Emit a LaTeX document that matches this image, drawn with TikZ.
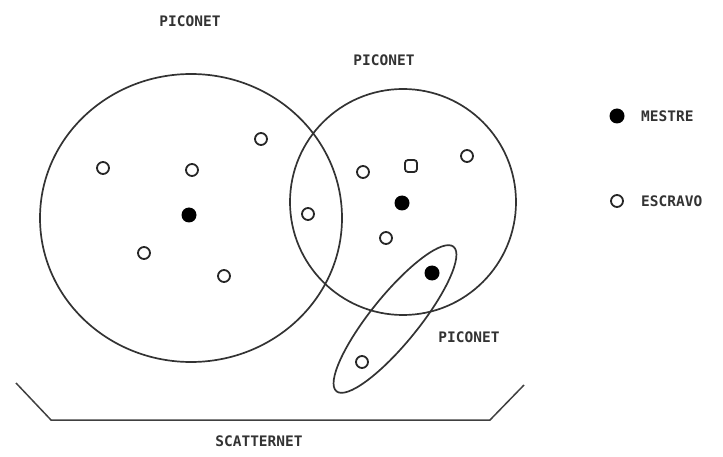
\documentclass[tikz,border=0pt]{standalone}
\usepackage{fontspec}
\setmonofont{DejaVu Sans Mono}
\begin{document}
\begin{tikzpicture}[x=1pt,y=-1pt,
  lbl/.style={font=\ttfamily\bfseries\fontsize{14.5}{15}\selectfont, text=black!80, inner sep=0pt},
  net/.style={draw=black!80, line width=1.7pt},
  slave/.style={circle, draw=black!85, line width=1.8pt, fill=white, minimum size=12pt, inner sep=0pt},
  slavesq/.style={rectangle, rounded corners=3pt, draw=black!85, line width=1.8pt, fill=white, minimum size=12pt, inner sep=0pt},
  master/.style={circle, fill=black, minimum size=15pt, inner sep=0pt}]
\useasboundingbox (0,0) rectangle (723,457);

% piconet boundaries
\draw[net] (191,218) ellipse [x radius=151, y radius=144];
\draw[net] (403,202) ellipse [x radius=113, y radius=113];
\draw[net, rotate around={51:(395,319)}] (395,319) ellipse [x radius=93, y radius=24];

% first piconet
\node[master] (m1) at (189,215) {};
\node[slave] (s1) at (103,168) {};
\node[slave] (s2) at (192,170) {};
\node[slave] (s3) at (261,139) {};
\node[slave] (s4) at (144,253) {};
\node[slave] (s5) at (224,276) {};
\node[slave] (s6) at (308,214) {};

% second piconet
\node[master] (m2) at (402,203) {};
\node[slave] (s7) at (363,172) {};
\node[slavesq] (s8) at (411,166) {};
\node[slave] (s9) at (467,156) {};
\node[slave] (s10) at (386,238) {};

% third piconet
\node[master] (m3) at (432,273) {};
\node[slave] (s11) at (362,362) {};

% labels
\node[lbl] (p1) at (190,21) {PICONET};
\node[lbl] (p2) at (384,60) {PICONET};
\node[lbl] (p3) at (469,337) {PICONET};
\node[lbl] (sc) at (259,441) {SCATTERNET};

% scatternet bracket
\coordinate (b1) at (16,383);
\coordinate (b2) at (51,420);
\coordinate (b3) at (490,420);
\coordinate (b4) at (524,385);
\draw[draw=black!75, line width=1.5pt] (b1) -- (b2) -- (b3) -- (b4);

% legend
\node[master] (lm) at (617,116) {};
\node[lbl, anchor=west] (lmt) at (641,116) {MESTRE};
\node[slave] (ls) at (617,201) {};
\node[lbl, anchor=west] (lst) at (641,201) {ESCRAVO};
\end{tikzpicture}
\end{document}
